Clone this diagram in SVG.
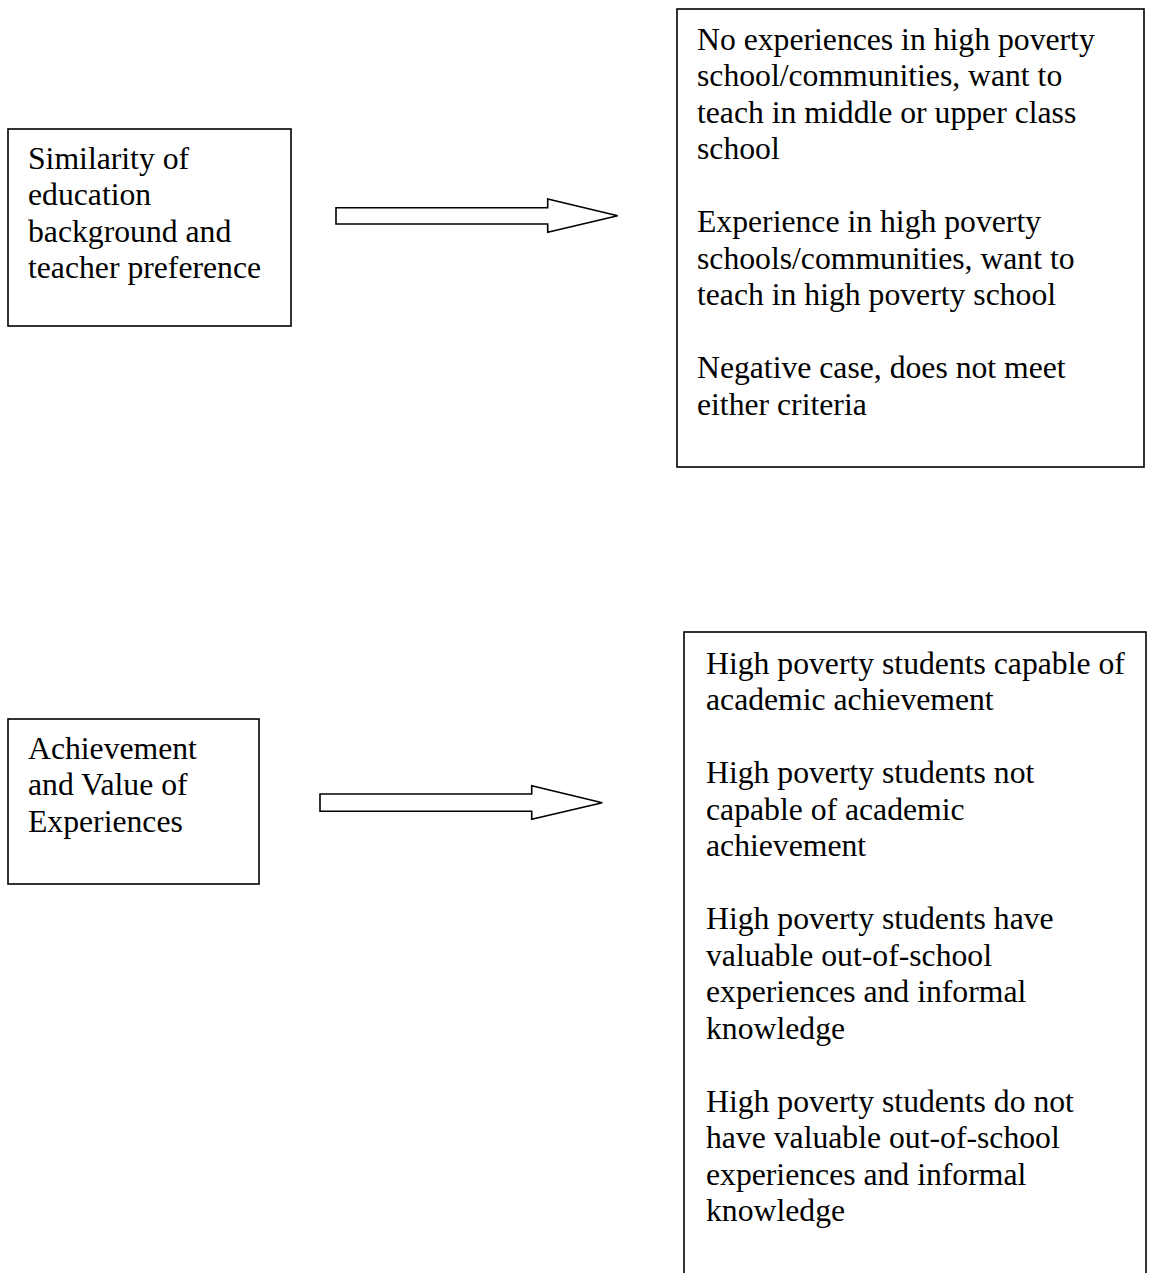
<svg xmlns="http://www.w3.org/2000/svg" width="1151" height="1273" viewBox="0 0 1151 1273">
<style>
.box{fill:#fff;stroke:#000;stroke-width:1.6}
.arrow{fill:#fff;stroke:#000;stroke-width:1.6;stroke-linejoin:miter}
text{font-family:"Liberation Serif","Times New Roman","DejaVu Serif",serif;font-size:31.7px;fill:#000}
</style>
<rect width="1151" height="1273" fill="#fff"/>
<g id="node-similarity">
<rect class="box" x="8" y="129" width="283" height="197"/>
<text x="28" y="168.5">Similarity of</text>
<text x="28" y="205">education</text>
<text x="28" y="241.5">background and</text>
<text x="28" y="278">teacher preference</text>
</g>
<g id="node-preference-outcomes">
<rect class="box" x="677" y="9" width="467" height="458"/>
<text x="697" y="49.5">No experiences in high poverty</text>
<text x="697" y="86">school/communities, want to</text>
<text x="697" y="122.5">teach in middle or upper class</text>
<text x="697" y="159">school</text>
<text x="697" y="232">Experience in high poverty</text>
<text x="697" y="268.5">schools/communities, want to</text>
<text x="697" y="305">teach in high poverty school</text>
<text x="697" y="378">Negative case, does not meet</text>
<text x="697" y="414.5">either criteria</text>
</g>
<g id="node-achievement">
<rect class="box" x="8" y="719" width="251" height="165"/>
<text x="28" y="758.5">Achievement</text>
<text x="28" y="795">and Value of</text>
<text x="28" y="831.5">Experiences</text>
</g>
<g id="node-achievement-outcomes">
<rect class="box" x="684" y="632" width="462" height="660"/>
<text x="706" y="673.5">High poverty students capable of</text>
<text x="706" y="710">academic achievement</text>
<text x="706" y="783">High poverty students not</text>
<text x="706" y="819.5">capable of academic</text>
<text x="706" y="856">achievement</text>
<text x="706" y="929">High poverty students have</text>
<text x="706" y="965.5">valuable out-of-school</text>
<text x="706" y="1002">experiences and informal</text>
<text x="706" y="1038.5">knowledge</text>
<text x="706" y="1111.5">High poverty students do not</text>
<text x="706" y="1148">have valuable out-of-school</text>
<text x="706" y="1184.5">experiences and informal</text>
<text x="706" y="1221">knowledge</text>
</g>
<g id="connectors">
<polygon class="arrow" points="336,207.7 547.7,207.7 547.7,199 617.7,215.7 547.7,232.3 547.7,224 336,224"/>
<polygon class="arrow" points="320,794 531.7,794 531.7,785.7 602.3,802.7 531.7,819.3 531.7,811.3 320,811.3"/>
</g>
</svg>
